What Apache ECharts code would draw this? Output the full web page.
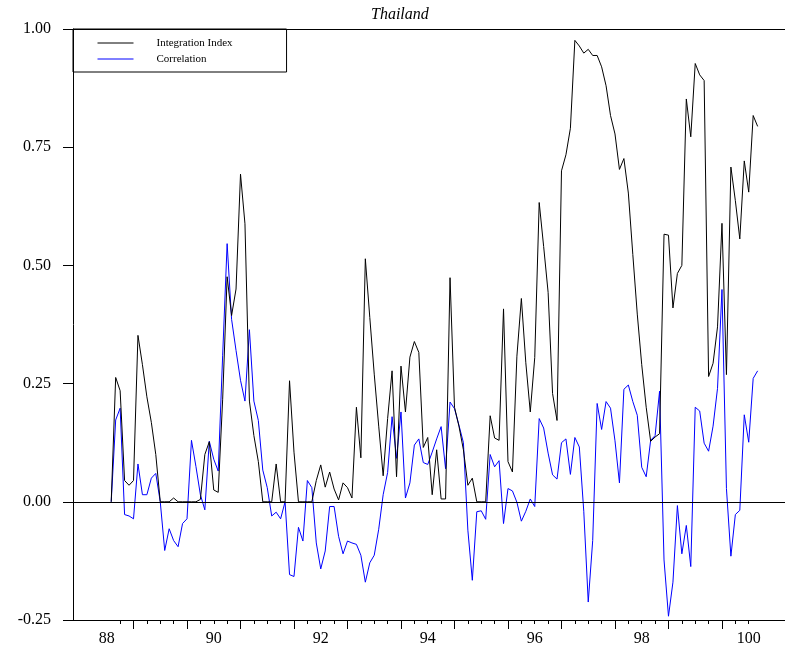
<!DOCTYPE html>
<html>
<head>
<meta charset="utf-8">
<script src="https://cdn.jsdelivr.net/npm/echarts@6/dist/echarts.min.js"></script>
<style>html,body{margin:0;padding:0;background:#fff}#c{width:785px;height:647px}</style>
</head>
<body>
<div id="c"></div>
<script>
// Monthly observations, first observation August 1988
const startYear = 1988;
const startMonth = 8;
const integrationIndex = [
0,0.263,0.235,0.045,0.035,0.045,0.352,0.29,0.222,0.168,
0.10,0.0,0.0,0.0,0.008,0.0,0.0,0.0,0.0,0.0,
0.005,0.10,0.127,0.025,0.02,0.217,0.476,0.394,0.45,0.693,
0.588,0.213,0.14,0.085,0.0,0.0,0.0,0.08,0.0,0.0,
0.256,0.105,0.0,0.0,0.0,0.0,0.045,0.078,0.031,0.063,
0.027,0.004,0.04,0.03,0.008,0.2,0.093,0.514,0.39,0.27,
0.16,0.055,0.176,0.277,0.053,0.287,0.19,0.306,0.339,0.316,
0.115,0.136,0.015,0.11,0.006,0.006,0.474,0.20,0.16,0.11,
0.035,0.05,0,0,0,0.182,0.135,0.13,0.408,0.085,
0.063,0.308,0.43,0.294,0.19,0.305,0.633,0.54,0.443,0.229,
0.172,0.70,0.734,0.79,0.976,0.964,0.949,0.957,0.944,0.944,
0.92,0.88,0.817,0.778,0.703,0.726,0.653,0.523,0.397,0.29,
0.20,0.128,0.137,0.144,0.566,0.564,0.41,0.483,0.50,0.852,
0.772,0.927,0.903,0.891,0.265,0.293,0.37,0.589,0.269,0.708,
0.637,0.556,0.721,0.655,0.817,0.794
];
const correlation = [
0,0.173,0.198,-0.027,-0.03,-0.036,0.08,0.015,0.015,0.05,
0.06,0.0,-0.103,-0.057,-0.082,-0.095,-0.046,-0.036,0.13,0.075,
0.015,-0.017,0.128,0.09,0.065,0.31,0.546,0.386,0.32,0.257,
0.213,0.364,0.213,0.172,0.067,0.03,-0.03,-0.022,-0.036,0.0,
-0.154,-0.158,-0.054,-0.083,0.045,0.03,-0.087,-0.142,-0.104,-0.01,
-0.01,-0.073,-0.11,-0.083,-0.087,-0.09,-0.113,-0.17,-0.129,-0.113,
-0.058,0.015,0.062,0.18,0.092,0.19,0.008,0.04,0.12,0.133,
0.083,0.079,0.105,0.133,0.159,0.07,0.211,0.197,0.162,0.125,
-0.06,-0.166,-0.021,-0.019,-0.037,0.1,0.074,0.087,-0.046,0.028,
0.023,-0.001,-0.041,-0.02,0.006,-0.01,0.176,0.156,0.103,0.057,
0.048,0.125,0.133,0.058,0.136,0.116,-0.02,-0.212,-0.082,0.208,
0.153,0.212,0.198,0.129,0.04,0.238,0.247,0.212,0.183,0.073,
0.053,0.13,0.14,0.234,-0.123,-0.242,-0.17,-0.008,-0.11,-0.05,
-0.137,0.2,0.192,0.124,0.107,0.16,0.24,0.449,0.028,-0.115,
-0.027,-0.018,0.184,0.126,0.261,0.277
];
const yearLabels = [1988, 1990, 1992, 1994, 1996, 1998, 2000];
const yTicks = [-0.25, 0, 0.25, 0.5, 0.75, 1.0];
const seriesNames = ['Integration Index', 'Correlation'];
const seriesColors = ['#000000', '#0000ff'];

const times = integrationIndex.map((_, i) => startYear + (startMonth - 1 + i) / 12);
const blackData = integrationIndex.map((v, i) => [times[i], v]);
const blueData = correlation.map((v, i) => [times[i], v]);

const quarterTicks = [];
for (let q = 0; q <= 47; q++) quarterTicks.push(1988.75 + q * 0.25);
const yearTicks = [];
for (let y = 1989; y <= 2000; y++) yearTicks.push(y);
const labelPos = yearLabels.map(y => y + 0.5);

const XMIN = 1987.869, XMAX = 2001.178;
const FONT = 'Liberation Serif';

const chart = echarts.init(document.getElementById('c'), null, {renderer: 'canvas'});
chart.setOption({
  animation: false,
  backgroundColor: '#fff',
  title: {
    text: 'Thailand', left: 371, top: 7, padding: 0,
    textStyle: {fontFamily: FONT, fontStyle: 'italic', fontWeight: 'normal', fontSize: 16, color: '#000'}
  },
  legend: {
    data: seriesNames.map((n, i) => ({
      name: n,
      itemStyle: {opacity: 0},
      lineStyle: {color: seriesColors[i], width: 1}
    })),
    orient: 'vertical',
    left: 73, top: 29,
    padding: [8, 54, 7, 24],
    borderColor: '#000', borderWidth: 1,
    itemWidth: 36, itemHeight: 12, itemGap: 4,
    textStyle: {fontFamily: FONT, fontSize: 11, lineHeight: 12, color: '#000', padding: [0, 0, 0, 18]}
  },
  grid: [
    {left: 73, right: 0, top: 29, bottom: 27, containLabel: false},
    {left: 73, right: 0, top: 29, bottom: 27, containLabel: false}
  ],
  xAxis: [
    {
      type: 'value', gridIndex: 0, min: XMIN, max: XMAX,
      axisLine: {show: true, onZero: false, lineStyle: {color: '#000', width: 1}},
      axisTick: {show: true, customValues: quarterTicks, length: 4, lineStyle: {color: '#000'}},
      axisLabel: {
        show: true, customValues: labelPos, margin: 11,
        fontFamily: FONT, fontSize: 16, color: '#000',
        formatter: v => String(Math.round(v - 0.5) - 1900)
      },
      splitLine: {show: false}
    },
    {
      type: 'value', gridIndex: 1, min: XMIN, max: XMAX,
      axisLine: {show: false, onZero: false},
      axisTick: {show: true, customValues: yearTicks, length: 9, lineStyle: {color: '#000'}},
      axisLabel: {show: false},
      splitLine: {show: false}
    }
  ],
  yAxis: [
    {
      type: 'value', gridIndex: 0, min: -0.25, max: 1, interval: 0.25,
      axisLine: {show: true, onZero: false, lineStyle: {color: '#000', width: 1}},
      axisTick: {show: true, length: 10, lineStyle: {color: '#000'}},
      axisLabel: {
        margin: 22, fontFamily: FONT, fontSize: 16, color: '#000',
        formatter: v => v.toFixed(2)
      },
      splitLine: {show: false}
    },
    {type: 'value', gridIndex: 1, min: -0.25, max: 1, show: false}
  ],
  series: [
    {
      name: seriesNames[0], type: 'line', xAxisIndex: 0, yAxisIndex: 0,
      data: blackData, symbol: 'none', showSymbol: false,
      lineStyle: {color: seriesColors[0], width: 1}, itemStyle: {color: seriesColors[0]},
      markLine: {
        silent: true, symbol: ['none', 'none'], label: {show: false},
        lineStyle: {color: '#000', width: 1, type: 'solid'},
        data: [{yAxis: 0}, {yAxis: 1}]
      },
      z: 3
    },
    {
      name: seriesNames[1], type: 'line', xAxisIndex: 0, yAxisIndex: 0,
      data: blueData, symbol: 'none', showSymbol: false,
      lineStyle: {color: seriesColors[1], width: 1}, itemStyle: {color: seriesColors[1]},
      z: 2
    }
  ]
});
</script>
</body>
</html>
